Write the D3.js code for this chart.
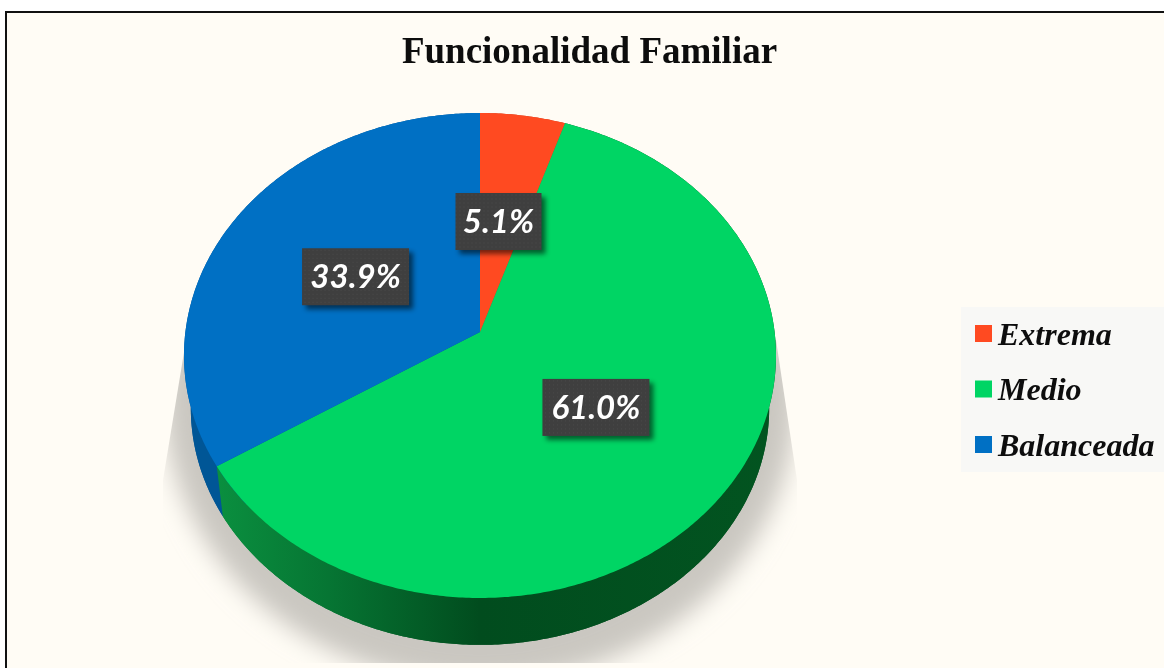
<!DOCTYPE html>
<html>
<head>
<meta charset="utf-8">
<script src="https://cdn.jsdelivr.net/npm/d3@7"></script>
<style>
  html, body { margin: 0; padding: 0; background: #fff; overflow: hidden; }
  svg { display: block; }
</style>
</head>
<body>
<div id="chart"></div>
<script>
  const categories = ["Extrema", "Medio", "Balanceada"];
  const values = [5.1, 61.0, 33.9];
  const colors = ["#ff4a21", "#00d564", "#0070c4"];
  const title = "Funcionalidad Familiar";

  const width = 1164, height = 668;

  // perspective of the disc: apex of the slices is above the middle of the rim
  const cx = 480, cy = 332;
  const ax = 294.6, ay = 240.2, k = -0.0969;
  // the lower rim is a little smaller and sits lower
  const lowerScale = 0.977, lowerY = 385;

  function project(angle, r = 1) {
    let u = r * Math.sin(angle), v = -r * Math.cos(angle);
    let d = 1 + k * v;
    return [ax * u / d, ay * v / d];
  }

  function top_point(angle, r = 1) {
    let p = project(angle, r);
    return [cx + p[0], cy + p[1]];
  }

  function low_point(angle) {
    let p = project(angle);
    return [cx + p[0] * lowerScale, lowerY + p[1] * lowerScale];
  }

  function rim(a0, a1, fn) {
    let n = Math.max(2, Math.ceil((a1 - a0) / 0.01));
    return d3.range(n + 1).map(i => fn(a0 + (a1 - a0) * i / n));
  }

  const line = d3.line();

  const svg = d3.select("#chart").append("svg")
    .attr("width", width)
    .attr("height", height);

  const defs = svg.append("defs");

  let blur = defs.append("filter").attr("id", "blur")
    .attr("x", "-20%").attr("y", "-20%").attr("width", "140%").attr("height", "140%");
  blur.append("feGaussianBlur").attr("stdDeviation", 12);

  let boxShadow = defs.append("filter").attr("id", "boxShadow")
    .attr("x", "-20%").attr("y", "-20%").attr("width", "150%").attr("height", "150%");
  boxShadow.append("feGaussianBlur").attr("stdDeviation", 2.5);

  let dots = defs.append("pattern").attr("id", "dots")
    .attr("width", 4).attr("height", 4)
    .attr("patternUnits", "userSpaceOnUse");
  dots.append("rect").attr("width", 4).attr("height", 4).attr("fill", "#3f3f3f");
  dots.append("rect").attr("x", 1).attr("y", 1).attr("width", 1).attr("height", 1).attr("fill", "#4a4a4a");

  let soft = defs.append("filter").attr("id", "soft");
  soft.append("feGaussianBlur").attr("stdDeviation", 0.45);

  // side wall shades: x positions are the visible front of the pie
  let wallGreen = defs.append("linearGradient").attr("id", "wall1")
    .attr("gradientUnits", "userSpaceOnUse")
    .attr("x1", 217).attr("x2", 776).attr("y1", 0).attr("y2", 0);
  [[0, "#0a8f3f"], [0.2, "#067533"], [0.47, "#014c1e"], [1, "#025420"]].forEach(s => {
    wallGreen.append("stop").attr("offset", s[0]).attr("stop-color", s[1]);
  });

  defs.append("clipPath").attr("id", "shadowClip").append("path")
    .attr("d", line([[186, 340], [163, 480], [163, 663], [797, 663], [797, 480], [776, 340]]) + "Z");

  // background and frame
  svg.append("rect")
    .attr("x", 6).attr("y", 12)
    .attr("width", width + 10).attr("height", height + 10)
    .attr("fill", "#fffcf5")
    .attr("stroke", "#111")
    .attr("stroke-width", 2);

  svg.append("text")
    .attr("x", 589.5).attr("y", 63)
    .attr("text-anchor", "middle")
    .attr("font-family", "Liberation Serif")
    .attr("font-weight", "bold")
    .attr("font-size", 37)
    .attr("fill", "#111")
    .attr("filter", "url(#soft)")
    .text(title);

  // shadow under the pie
  svg.append("g").attr("clip-path", "url(#shadowClip)")
    .append("ellipse")
    .attr("cx", cx).attr("cy", 400)
    .attr("rx", 316).attr("ry", 284)
    .attr("fill", "#cac7c1")
    .attr("filter", "url(#blur)");

  const arcs = d3.pie().sort(null).value(d => d)(values);

  const pie = svg.append("g");

  function wall_path(d) {
    let upper = rim(d.startAngle, d.endAngle, top_point);
    let lower = rim(d.startAngle, d.endAngle, low_point).reverse();
    return line(upper.concat(lower)) + "Z";
  }

  function low_path(d) {
    return line([[cx, lowerY]].concat(rim(d.startAngle, d.endAngle, low_point))) + "Z";
  }

  function wall_fill(d, i) {
    if (i === 1) return "url(#wall1)";
    return d3.color(colors[i]).darker(0.75);
  }

  // walls go back to front: blue and red first, green in front of them
  const order = [2, 0, 1];
  pie.selectAll("path.low")
    .data(order)
    .join("path")
    .attr("class", "low")
    .attr("d", i => low_path(arcs[i]))
    .attr("fill", i => wall_fill(arcs[i], i));

  pie.selectAll("path.wall")
    .data(order)
    .join("path")
    .attr("class", "wall")
    .attr("d", i => wall_path(arcs[i]))
    .attr("fill", i => wall_fill(arcs[i], i));

  pie.selectAll("path.face")
    .data(arcs)
    .join("path")
    .attr("class", "face")
    .attr("d", d => line([[cx, cy]].concat(rim(d.startAngle, d.endAngle, top_point))) + "Z")
    .attr("fill", (d, i) => colors[i]);

  // data labels
  const labelR = 0.49, boxH = 57;
  const labels = svg.selectAll("g.label")
    .data(arcs)
    .join("g")
    .attr("class", "label")
    .attr("transform", (d, i) => {
      let p = top_point((d.startAngle + d.endAngle) / 2, labelR);
      // the small slice label sits a bit left of its radial spot
      let nudge = i === 0 ? -3.5 : -1;
      return `translate(${p[0] + nudge},${p[1] + 0.5})`;
    });

  labels.each(function (d) {
    let g = d3.select(this);
    let txt = d.value.toFixed(1) + "%";
    let w = txt.length === 4 ? 86 : 107;
    g.append("rect")
      .attr("x", -w / 2 + 4).attr("y", -boxH / 2 + 4)
      .attr("width", w).attr("height", boxH)
      .attr("fill", "#000").attr("opacity", 0.55)
      .attr("filter", "url(#boxShadow)");
    g.append("rect")
      .attr("x", -w / 2).attr("y", -boxH / 2)
      .attr("width", w).attr("height", boxH)
      .attr("fill", "url(#dots)");
    g.append("text")
      .attr("text-anchor", "middle")
      .attr("y", 11.5)
      .attr("font-family", "Lato")
      .attr("font-style", "italic")
      .attr("font-weight", 700)
      .attr("font-size", 33)
      .attr("fill", "#fff")
      .attr("filter", "url(#soft)")
      .text(txt);
  });

  // legend
  const legendY = d3.scalePoint().domain(categories).range([333.5, 444.5]);

  svg.append("rect")
    .attr("x", 961).attr("y", 307)
    .attr("width", 203).attr("height", 165)
    .attr("fill", "#f8f8f6");

  const legend = svg.selectAll("g.legend")
    .data(categories)
    .join("g")
    .attr("class", "legend")
    .attr("transform", d => `translate(975,${legendY(d)})`);

  legend.append("rect")
    .attr("y", -8.5)
    .attr("width", 17).attr("height", 17)
    .attr("fill", (d, i) => colors[i]);

  legend.append("text")
    .attr("x", 23).attr("y", 11)
    .attr("font-family", "Liberation Serif")
    .attr("font-style", "italic")
    .attr("font-weight", "bold")
    .attr("font-size", 32)
    .attr("fill", "#111")
    .attr("filter", "url(#soft)")
    .text(d => d);
</script>
</body>
</html>
